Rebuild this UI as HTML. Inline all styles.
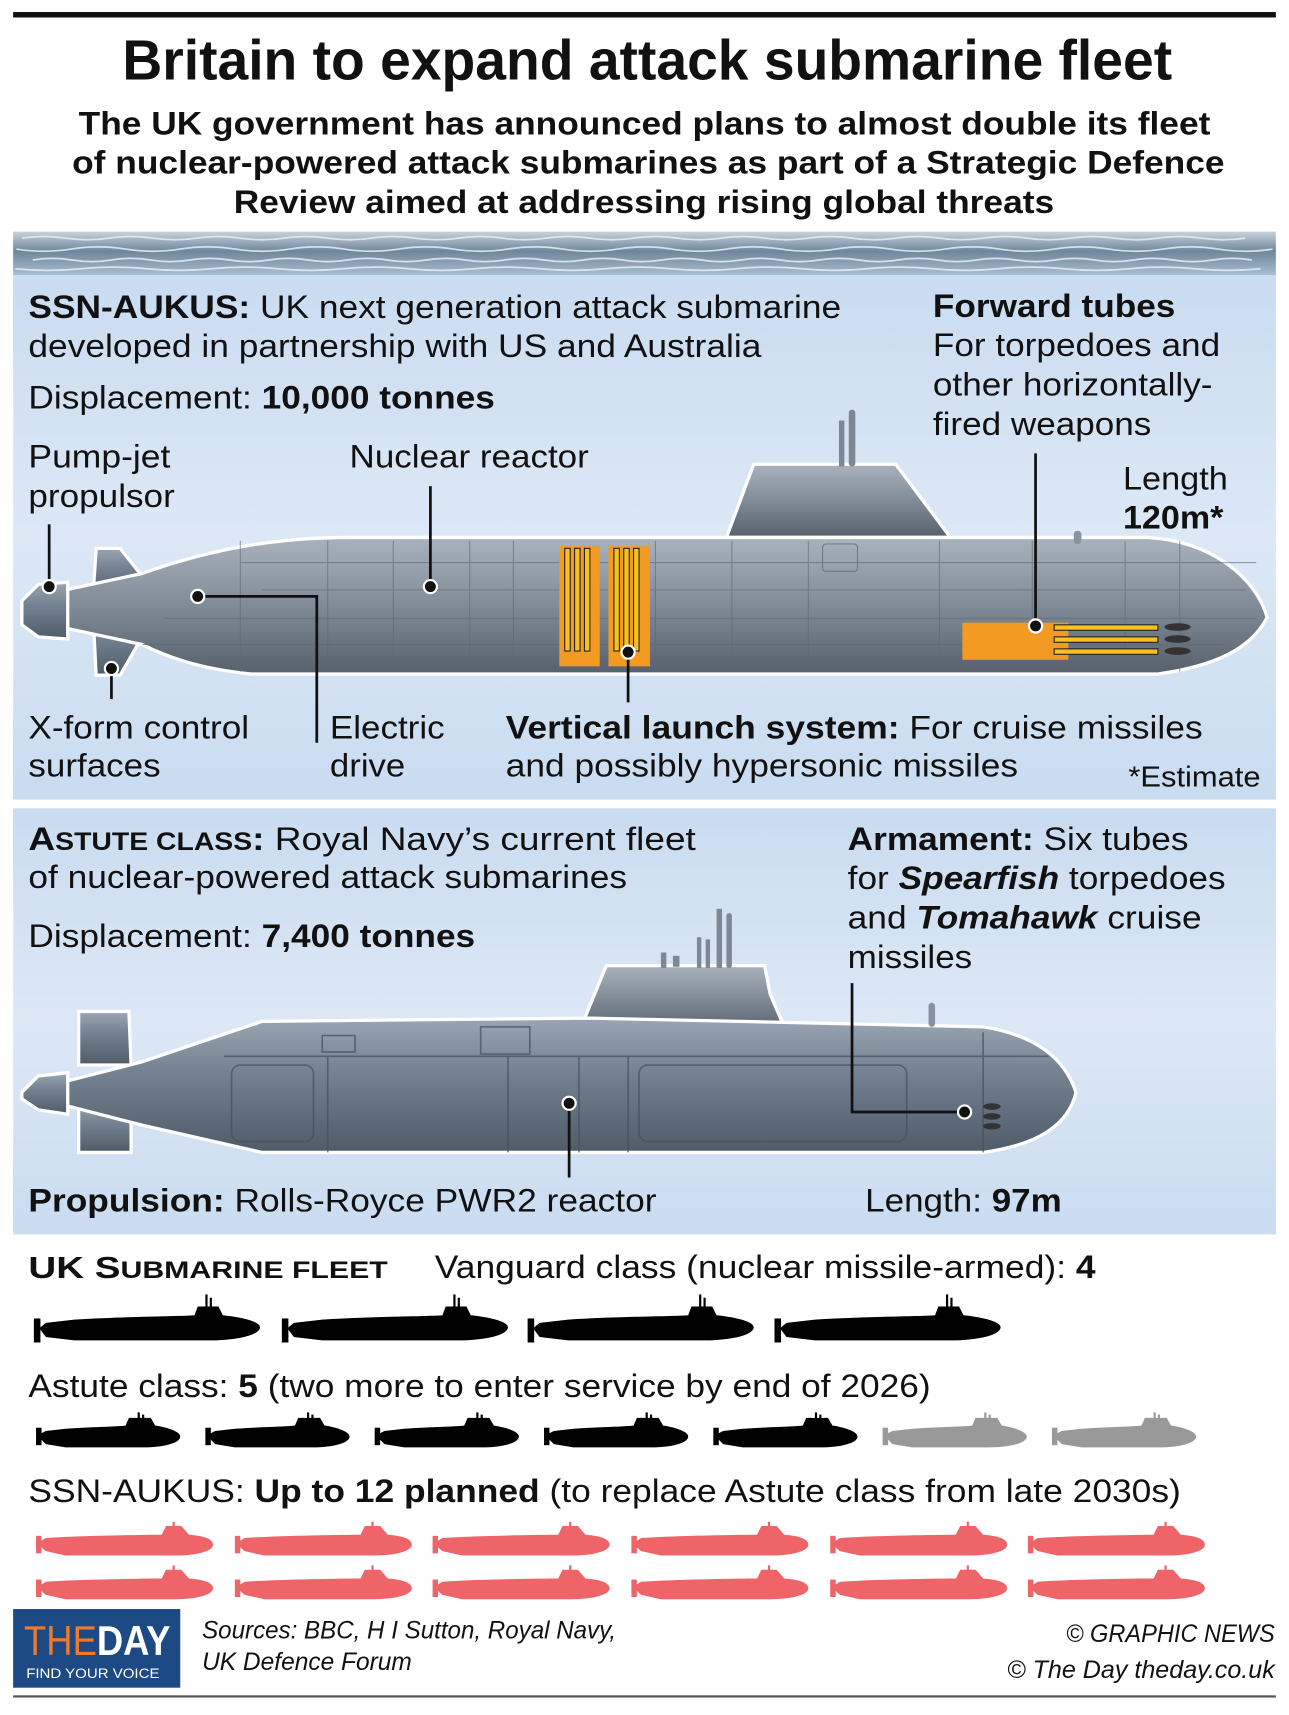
<!DOCTYPE html>
<html><head><meta charset="utf-8">
<style>
html,body{margin:0;padding:0;background:#fff;}
svg{display:block;}
text{font-family:"Liberation Sans",Arial,sans-serif;fill:#111;}
.b{font-weight:bold;}
</style></head>
<body>
<svg width="1289" height="1715" viewBox="0 0 1180 1570" xmlns="http://www.w3.org/2000/svg">
<defs>
<linearGradient id="hull" x1="0" y1="0" x2="0" y2="1">
<stop offset="0" stop-color="#a9b3bd"/><stop offset="0.5" stop-color="#7f8b97"/><stop offset="1" stop-color="#56616d"/>
</linearGradient>
<linearGradient id="hull2" x1="0" y1="0" x2="0" y2="1">
<stop offset="0" stop-color="#9aa6b3"/><stop offset="0.4" stop-color="#748291"/><stop offset="1" stop-color="#4f5b69"/>
</linearGradient>
<linearGradient id="sea" x1="0" y1="0" x2="0" y2="1">
<stop offset="0" stop-color="#c7d3de"/><stop offset="0.45" stop-color="#6f869b"/><stop offset="1" stop-color="#a9bfd3"/>
</linearGradient>
<linearGradient id="pan" x1="0" y1="0" x2="0" y2="1">
<stop offset="0" stop-color="#c9dcf0"/><stop offset="0.5" stop-color="#dce8f6"/><stop offset="1" stop-color="#c9dcf0"/>
</linearGradient>
<g id="vg"><path d="M8,31 L14,26 L40,23 C90,20 140,20 150,19 L153,11 L172,11 L176,19 C195,21 210,25 210,30 C210,36 195,41 170,42 L40,42 L14,39 Z"/><rect x="3" y="22" width="6" height="22"/><rect x="160" y="0" width="2" height="13"/><rect x="164" y="3" width="2" height="10"/></g>
<g id="as"><path d="M4,21 L12,17 L30,15 C60,13 80,13 85,12 L88,5 L108,5 L112,12 C125,14 135,18 135,22 C135,28 120,32 100,32 L30,32 L12,29 Z"/><rect x="3" y="14" width="5" height="16"/><rect x="96" y="0" width="2" height="7"/><rect x="100" y="2" width="2" height="5"/></g>
<g id="ak"><path d="M4,16 L12,11 C40,9 100,8 118,8 L122,0 L136,0 L143,8 C157,9 165,12 165,17 C165,23 150,27 130,27 L30,27 L12,23 Z"/><rect x="3" y="9" width="5" height="16"/><rect x="128" y="-4" width="2" height="6"/></g>
</defs>

<rect x="12" y="11" width="1156" height="5" fill="#111"/>
<text x="112" y="73" font-size="52" class="b" textLength="961" lengthAdjust="spacingAndGlyphs">Britain to expand attack submarine fleet</text>
<text x="72" y="123" font-size="30" class="b" textLength="1036" lengthAdjust="spacingAndGlyphs">The UK government has announced plans to almost double its fleet</text>
<text x="66" y="159" font-size="30" class="b" textLength="1055" lengthAdjust="spacingAndGlyphs">of nuclear-powered attack submarines as part of a Strategic Defence</text>
<text x="214" y="195" font-size="30" class="b" textLength="751" lengthAdjust="spacingAndGlyphs">Review aimed at addressing rising global threats</text>

<!-- sea -->
<rect x="12" y="212" width="1156" height="40" fill="url(#sea)"/>
<g stroke="#e6eef5" stroke-width="1.6" fill="none" opacity="0.85">
<path d="M20,218 q20,-3 40,0 t40,0 t40,0 t40,0 t40,0 t40,0 t40,0 t40,0 t40,0 t40,0 t40,0 t40,0 t40,0 t40,0 t40,0 t40,0 t40,0 t40,0 t40,0 t40,0 t40,0 t40,0 t40,0 t40,0 t40,0 t40,0 t40,0 t40,0"/>
<path d="M15,228 q25,4 50,0 t50,0 t50,0 t50,0 t50,0 t50,0 t50,0 t50,0 t50,0 t50,0 t50,0 t50,0 t50,0 t50,0 t50,0 t50,0 t50,0 t50,0 t50,0 t50,0 t50,0 t50,0 t50,0"/>
<path d="M30,238 q18,-3 36,0 t36,0 t36,0 t36,0 t36,0 t36,0 t36,0 t36,0 t36,0 t36,0 t36,0 t36,0 t36,0 t36,0 t36,0 t36,0 t36,0 t36,0 t36,0 t36,0 t36,0 t36,0 t36,0 t36,0 t36,0 t36,0 t36,0 t36,0 t36,0 t36,0 t36,0"/>
<path d="M14,246 q30,3 60,0 t60,0 t60,0 t60,0 t60,0 t60,0 t60,0 t60,0 t60,0 t60,0 t60,0 t60,0 t60,0 t60,0 t60,0 t60,0 t60,0 t60,0 t60,0"/>
</g>

<!-- panel 1 -->
<rect x="12" y="252" width="1156" height="480" fill="url(#pan)"/>
<text x="26" y="291" font-size="30" textLength="744" lengthAdjust="spacingAndGlyphs"><tspan class="b">SSN-AUKUS:</tspan> UK next generation attack submarine</text>
<text x="26" y="327" font-size="30" textLength="671" lengthAdjust="spacingAndGlyphs">developed in partnership with US and Australia</text>
<text x="26" y="374" font-size="30" textLength="427" lengthAdjust="spacingAndGlyphs">Displacement: <tspan class="b">10,000 tonnes</tspan></text>
<text x="854" y="290" font-size="30" class="b" textLength="222" lengthAdjust="spacingAndGlyphs">Forward tubes</text>
<text x="854" y="326" font-size="30" textLength="263" lengthAdjust="spacingAndGlyphs">For torpedoes and</text>
<text x="854" y="362" font-size="30" textLength="256" lengthAdjust="spacingAndGlyphs">other horizontally-</text>
<text x="854" y="398" font-size="30" textLength="200" lengthAdjust="spacingAndGlyphs">fired weapons</text>
<text x="26" y="428" font-size="30" textLength="130" lengthAdjust="spacingAndGlyphs">Pump-jet</text>
<text x="26" y="464" font-size="30" textLength="134" lengthAdjust="spacingAndGlyphs">propulsor</text>
<text x="320" y="428" font-size="30" textLength="219" lengthAdjust="spacingAndGlyphs">Nuclear reactor</text>
<text x="1028" y="448" font-size="30" textLength="96" lengthAdjust="spacingAndGlyphs">Length</text>
<text x="1028" y="484" font-size="30" class="b" textLength="92" lengthAdjust="spacingAndGlyphs">120m*</text>

<!-- SSN-AUKUS sub -->
<g stroke="#fff" stroke-width="3">
<path d="M665,492 L690,425 L820,425 L870,492 Z" fill="url(#hull)"/>
<path d="M85,548 L88,502 L110,502 L140,540 Z" fill="url(#hull2)"/>
<path d="M85,560 L140,566 L110,618 L88,618 Z" fill="url(#hull2)"/>
<path d="M60,540 L130,525 C200,500 260,492 320,492 L1050,492 C1110,495 1150,530 1160,565 C1145,595 1110,610 1060,617 L230,617 C180,612 150,600 130,590 L60,575 Z" fill="url(#hull)"/>
<path d="M20,550 L35,535 L62,533 L62,585 L35,583 L20,572 Z" fill="url(#hull2)"/>
</g>
<rect x="768" y="385" width="5" height="42" fill="#7d8894"/><rect x="777" y="375" width="6" height="52" rx="3" fill="#7d8894"/>
<rect x="983" y="486" width="7" height="12" rx="3" fill="#8893a0"/>
<g stroke="#5d6874" stroke-width="1" opacity="0.6">
<line x1="220" y1="515" x2="1150" y2="515"/><line x1="150" y1="566" x2="1150" y2="566"/><line x1="130" y1="590" x2="1120" y2="590"/><line x1="240" y1="540" x2="1140" y2="540"/>
<line x1="220" y1="495" x2="220" y2="615"/><line x1="300" y1="495" x2="300" y2="615"/><line x1="360" y1="495" x2="360" y2="615"/><line x1="430" y1="495" x2="430" y2="615"/><line x1="470" y1="495" x2="470" y2="615"/><line x1="600" y1="495" x2="600" y2="615"/><line x1="670" y1="495" x2="670" y2="615"/><line x1="740" y1="495" x2="740" y2="615"/><line x1="860" y1="495" x2="860" y2="615"/><line x1="945" y1="495" x2="945" y2="615"/><line x1="1030" y1="495" x2="1030" y2="615"/><line x1="1080" y1="495" x2="1080" y2="615"/>
</g>
<rect x="753" y="498" width="32" height="25" rx="3" fill="none" stroke="#6d7884"/>
<rect x="512" y="500" width="37" height="110" fill="#f39a23"/><rect x="557" y="500" width="38" height="110" fill="#f39a23"/>
<g stroke="#222" stroke-width="1" fill="#f7c21d">
<rect x="517" y="502" width="5" height="94"/><rect x="526" y="502" width="5" height="94"/><rect x="535" y="502" width="5" height="94"/>
<rect x="562" y="502" width="5" height="94"/><rect x="571" y="502" width="5" height="94"/><rect x="580" y="502" width="5" height="94"/>
</g>
<rect x="881" y="570" width="97" height="34" fill="#f39a23"/>
<g stroke="#222" stroke-width="1" fill="#f7c21d"><rect x="965" y="572" width="95" height="5"/><rect x="965" y="583" width="95" height="5"/><rect x="965" y="594" width="95" height="5"/></g>
<g fill="#333"><ellipse cx="1078" cy="574" rx="12" ry="3.5"/><ellipse cx="1078" cy="585" rx="12" ry="3.5"/><ellipse cx="1078" cy="596" rx="12" ry="3.5"/></g>
<g stroke="#111" stroke-width="2.5" fill="none">
<line x1="45" y1="480" x2="45" y2="537"/><line x1="394" y1="445" x2="394" y2="537"/>
<polyline points="181,546 290,546 290,680"/><line x1="102" y1="612" x2="102" y2="640"/>
<line x1="575" y1="597" x2="575" y2="643"/><line x1="948" y1="415" x2="948" y2="573"/>
</g>
<g fill="#111" stroke="#fff" stroke-width="2"><circle cx="45" cy="537" r="6"/><circle cx="394" cy="537" r="6"/><circle cx="181" cy="546" r="6"/><circle cx="102" cy="612" r="6"/><circle cx="575" cy="597" r="6"/><circle cx="948" cy="573" r="6"/></g>

<text x="26" y="676" font-size="30" textLength="202" lengthAdjust="spacingAndGlyphs">X-form control</text>
<text x="26" y="711" font-size="30" textLength="121" lengthAdjust="spacingAndGlyphs">surfaces</text>
<text x="302" y="676" font-size="30" textLength="105" lengthAdjust="spacingAndGlyphs">Electric</text>
<text x="302" y="711" font-size="30" textLength="69" lengthAdjust="spacingAndGlyphs">drive</text>
<text x="463" y="676" font-size="30" textLength="638" lengthAdjust="spacingAndGlyphs"><tspan class="b">Vertical launch system:</tspan> For cruise missiles</text>
<text x="463" y="711" font-size="30" textLength="469" lengthAdjust="spacingAndGlyphs">and possibly hypersonic missiles</text>
<text x="1033" y="720" font-size="26" textLength="121" lengthAdjust="spacingAndGlyphs">*Estimate</text>

<!-- panel 2 -->
<rect x="12" y="740" width="1156" height="390" fill="url(#pan)"/>
<text x="26" y="778" font-size="30" textLength="611" lengthAdjust="spacingAndGlyphs"><tspan class="b">A<tspan font-size="23">STUTE CLASS</tspan>:</tspan> Royal Navy’s current fleet</text>
<text x="26" y="813" font-size="30" textLength="548" lengthAdjust="spacingAndGlyphs">of nuclear-powered attack submarines</text>
<text x="26" y="867" font-size="30" textLength="409" lengthAdjust="spacingAndGlyphs">Displacement: <tspan class="b">7,400 tonnes</tspan></text>
<text x="776" y="778" font-size="30" textLength="312" lengthAdjust="spacingAndGlyphs"><tspan class="b">Armament:</tspan> Six tubes</text>
<text x="776" y="814" font-size="30" textLength="346" lengthAdjust="spacingAndGlyphs">for <tspan class="b" font-style="italic">Spearfish</tspan> torpedoes</text>
<text x="776" y="850" font-size="30" textLength="324" lengthAdjust="spacingAndGlyphs">and <tspan class="b" font-style="italic">Tomahawk</tspan> cruise</text>
<text x="776" y="886" font-size="30" textLength="114" lengthAdjust="spacingAndGlyphs">missiles</text>

<!-- Astute sub -->
<g stroke="#fff" stroke-width="3">
<path d="M530,945 L555,884 L700,884 L705,910 L720,945 Z" fill="url(#hull)"/>
<path d="M72,975 L72,926 L118,926 L120,975 Z" fill="url(#hull2)"/>
<path d="M72,1010 L120,1010 L120,1055 L72,1055 Z" fill="url(#hull2)"/>
<path d="M60,990 L130,972 L240,935 L540,932 L900,940 C950,948 975,970 985,1000 C978,1030 950,1048 900,1055 L240,1055 L130,1030 L60,1012 Z" fill="url(#hull2)"/>
<path d="M20,1000 L35,985 L62,982 L62,1020 L35,1016 L20,1006 Z" fill="url(#hull2)"/>
</g>
<g fill="#7d8894"><rect x="605" y="872" width="5" height="14"/><rect x="616" y="875" width="6" height="10"/><rect x="638" y="858" width="4" height="28"/><rect x="646" y="860" width="4" height="26"/><rect x="656" y="832" width="5" height="54"/><rect x="665" y="836" width="5" height="50" rx="2"/></g>
<rect x="850" y="918" width="6" height="22" rx="3" fill="#8893a0"/>
<g stroke="#44505c" stroke-width="1.5" fill="none" opacity="0.7">
<rect x="212" y="975" width="75" height="70" rx="8"/><rect x="585" y="975" width="245" height="70" rx="8"/>
<line x1="205" y1="967" x2="960" y2="967"/><line x1="300" y1="967" x2="300" y2="1055"/><line x1="465" y1="967" x2="465" y2="1055"/><line x1="530" y1="967" x2="530" y2="1055"/><line x1="575" y1="967" x2="575" y2="1055"/><line x1="900" y1="945" x2="900" y2="1055"/>
<rect x="295" y="948" width="30" height="15"/><rect x="440" y="940" width="45" height="25"/>
</g>
<g fill="#333"><ellipse cx="908" cy="1013" rx="8" ry="3"/><ellipse cx="908" cy="1022" rx="8" ry="3"/><ellipse cx="908" cy="1031" rx="8" ry="3"/></g>
<g stroke="#111" stroke-width="2.5" fill="none"><line x1="521" y1="1010" x2="521" y2="1078"/><polyline points="780,900 780,1018 883,1018"/></g>
<g fill="#111" stroke="#fff" stroke-width="2"><circle cx="521" cy="1010" r="6"/><circle cx="883" cy="1018" r="6"/></g>
<text x="26" y="1109" font-size="30" textLength="575" lengthAdjust="spacingAndGlyphs"><tspan class="b">Propulsion:</tspan> Rolls-Royce PWR2 reactor</text>
<text x="792" y="1109" font-size="30" textLength="180" lengthAdjust="spacingAndGlyphs">Length: <tspan class="b">97m</tspan></text>

<!-- fleet -->
<text x="26" y="1170" font-size="28" class="b" textLength="329" lengthAdjust="spacingAndGlyphs">UK S<tspan font-size="22">UBMARINE FLEET</tspan></text>
<text x="398" y="1170" font-size="30" textLength="605" lengthAdjust="spacingAndGlyphs">Vanguard class (nuclear missile-armed): <tspan class="b">4</tspan></text>
<g fill="#000"><use href="#vg" x="28" y="1185"/><use href="#vg" x="255" y="1185"/><use href="#vg" x="480" y="1185"/><use href="#vg" x="706" y="1185"/></g>
<text x="26" y="1279" font-size="30" textLength="826" lengthAdjust="spacingAndGlyphs">Astute class: <tspan class="b">5</tspan> (two more to enter service by end of 2026)</text>
<g fill="#000"><use href="#as" x="30" y="1293"/><use href="#as" x="185" y="1293"/><use href="#as" x="340" y="1293"/><use href="#as" x="495" y="1293"/><use href="#as" x="650" y="1293"/></g>
<g fill="#999"><use href="#as" x="805" y="1293"/><use href="#as" x="960" y="1293"/></g>
<text x="26" y="1375" font-size="30" textLength="1055" lengthAdjust="spacingAndGlyphs">SSN-AUKUS: <tspan class="b">Up to 12 planned</tspan> (to replace Astute class from late 2030s)</text>
<g fill="#ee6468">
<use href="#ak" x="30" y="1397"/><use href="#ak" x="212" y="1397"/><use href="#ak" x="393" y="1397"/><use href="#ak" x="575" y="1397"/><use href="#ak" x="757" y="1397"/><use href="#ak" x="938" y="1397"/>
<use href="#ak" x="30" y="1437"/><use href="#ak" x="212" y="1437"/><use href="#ak" x="393" y="1437"/><use href="#ak" x="575" y="1437"/><use href="#ak" x="757" y="1437"/><use href="#ak" x="938" y="1437"/>
</g>

<!-- footer -->
<rect x="12" y="1473" width="153" height="72" fill="#1d4a85"/>
<text x="22" y="1515" font-size="38" textLength="134" lengthAdjust="spacingAndGlyphs"><tspan fill="#f07a2a" style="fill:#f07a2a">THE</tspan><tspan style="fill:#fff" class="b">DAY</tspan></text>
<text x="24" y="1536" font-size="13" style="fill:#fff" textLength="122" lengthAdjust="spacingAndGlyphs">FIND YOUR VOICE</text>
<text x="185" y="1500" font-size="23" font-style="italic" textLength="379" lengthAdjust="spacingAndGlyphs">Sources: BBC, H I Sutton, Royal Navy,</text>
<text x="185" y="1529" font-size="23" font-style="italic" textLength="192" lengthAdjust="spacingAndGlyphs">UK Defence Forum</text>
<text x="976" y="1503" font-size="23" font-style="italic" textLength="191" lengthAdjust="spacingAndGlyphs">© GRAPHIC NEWS</text>
<text x="922" y="1536" font-size="23" font-style="italic" textLength="245" lengthAdjust="spacingAndGlyphs">© The Day   theday.co.uk</text>
<rect x="12" y="1552" width="1156" height="2" fill="#555"/>
</svg>
</body></html>
